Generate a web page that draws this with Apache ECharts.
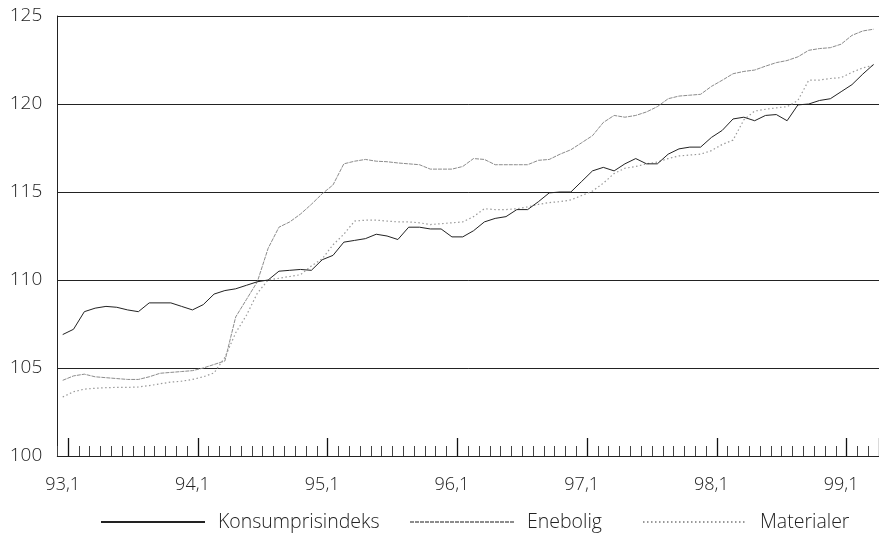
<!DOCTYPE html>
<html>
<head>
<meta charset="utf-8">
<script src="https://cdn.jsdelivr.net/npm/echarts@6/dist/echarts.min.js"></script>
<style>
  html, body { margin: 0; padding: 0; background: #fff; }
  #chart { width: 879px; height: 535px; }
</style>
</head>
<body>
<div id="chart"></div>
<script>
// months Jan 93 .. Apr 99
var years = ["93", "94", "95", "96", "97", "98", "99"];
var lastMonth = 4;
var categories = [];
for (var y = 0; y < years.length; y++) {
  var maxM = y === years.length - 1 ? lastMonth : 12;
  for (var m = 1; m <= maxM; m++) {
    categories.push(years[y] + "," + m);
  }
}

var konsumprisindeks = [
  106.9, 107.2, 108.2, 108.4, 108.5, 108.45, 108.3, 108.2, 108.7, 108.7, 108.7, 108.5,
  108.3, 108.6, 109.2, 109.4, 109.5, 109.7, 109.9, 110.0, 110.5, 110.55, 110.6, 110.55,
  111.15, 111.4, 112.15, 112.25, 112.35, 112.6, 112.5, 112.3, 113.0, 113.0, 112.9, 112.9,
  112.45, 112.45, 112.8, 113.3, 113.5, 113.6, 114.0, 114.0, 114.45, 114.95, 115.0, 115.0,
  115.6, 116.2, 116.4, 116.2, 116.6, 116.9, 116.6, 116.6, 117.15, 117.45, 117.55, 117.55,
  118.1, 118.5, 119.15, 119.25, 119.05, 119.35, 119.4, 119.05, 119.95, 120.0, 120.2, 120.3,
  120.7, 121.1, 121.7, 122.25
];

var enebolig = [
  104.3, 104.55, 104.65, 104.5, 104.45, 104.4, 104.35, 104.35, 104.5, 104.7, 104.75, 104.8,
  104.85, 105.0, 105.2, 105.4, 107.9, 108.9, 109.9, 111.8, 113.0, 113.3, 113.75, 114.3,
  114.9, 115.4, 116.6, 116.75, 116.85, 116.75, 116.72, 116.65, 116.6, 116.55, 116.3, 116.3,
  116.3, 116.45, 116.9, 116.85, 116.55, 116.55, 116.55, 116.55, 116.8, 116.85, 117.15, 117.4,
  117.8, 118.2, 118.95, 119.35, 119.25, 119.35, 119.55, 119.85, 120.3, 120.45, 120.5, 120.55,
  121.0, 121.35, 121.72, 121.85, 121.93, 122.15, 122.35, 122.47, 122.68, 123.05, 123.15, 123.2,
  123.4, 123.9, 124.15, 124.25
];

var materialer = [
  103.35, 103.65, 103.8, 103.85, 103.88, 103.9, 103.9, 103.92, 104.0, 104.1, 104.2, 104.25,
  104.35, 104.5, 104.72, 105.6, 107.0, 108.0, 109.25, 110.0, 110.1, 110.2, 110.3, 110.8,
  111.2, 112.0, 112.6, 113.35, 113.4, 113.4, 113.35, 113.3, 113.3, 113.25, 113.15, 113.2,
  113.25, 113.3, 113.6, 114.05, 114.0, 114.0, 114.05, 114.15, 114.3, 114.4, 114.45, 114.55,
  114.8, 115.05, 115.5, 116.05, 116.35, 116.45, 116.6, 116.7, 116.9, 117.05, 117.1, 117.15,
  117.35, 117.7, 117.95, 119.1, 119.6, 119.7, 119.78, 119.85, 120.2, 121.35, 121.36, 121.45,
  121.5, 121.8, 122.05, 122.2
];

var yTicks = { min: 100, max: 125, step: 5 };

var font = "'Open Sans', 'DejaVu Sans', sans-serif";
var textColor = "#222";

var chart = echarts.init(document.getElementById("chart"));

function legendAt(name, left) {
  return {
    data: [name],
    left: left,
    top: 512,
    padding: 0,
    itemWidth: 104,
    itemHeight: 12,
    itemStyle: { opacity: 0 },
    textStyle: {
      fontFamily: font,
      fontWeight: 300,
      fontSize: 19.5,
      color: textColor,
      padding: [0, 0, 0, 8]
    },
    selectedMode: false
  };
}

var option = {
  animation: false,
  backgroundColor: "#fff",
  grid: {
    left: 57.3,
    right: 0,
    top: 16,
    bottom: 79
  },
  legend: [
    legendAt("Konsumprisindeks", 100),
    legendAt("Enebolig", 409),
    legendAt("Materialer", 642)
  ],
  xAxis: [
    {
      type: "category",
      data: categories,
      boundaryGap: true,
      axisLine: { show: true, lineStyle: { color: "#222", width: 1 } },
      axisTick: {
        show: true,
        inside: true,
        interval: 0,
        length: 10,
        lineStyle: { color: "#444", width: 1 }
      },
      axisLabel: {
        interval: 11,
        margin: 20,
        fontFamily: font,
        fontWeight: 300,
        fontSize: 18,
        color: textColor
      },
      splitLine: { show: false }
    },
    {
      type: "category",
      data: categories,
      boundaryGap: true,
      position: "bottom",
      axisLine: { show: false },
      axisTick: {
        show: true,
        inside: true,
        length: 18,
        interval: function (index) { return index % 12 === 1; },
        lineStyle: { color: "#111", width: 1.3 }
      },
      axisLabel: { show: false },
      splitLine: { show: false }
    }
  ],
  yAxis: {
    type: "value",
    min: yTicks.min,
    max: yTicks.max,
    interval: yTicks.step,
    axisLine: { show: true, lineStyle: { color: "#222", width: 1 } },
    axisTick: { show: false },
    axisLabel: {
      margin: 15,
      fontFamily: font,
      fontWeight: 300,
      fontSize: 19,
      color: textColor
    },
    splitLine: { show: true, lineStyle: { color: "#222", width: 1 } }
  },
  series: [
    {
      name: "Konsumprisindeks",
      type: "line",
      data: konsumprisindeks,
      symbol: "none",
      lineStyle: { color: "#222", width: 1 },
      itemStyle: { color: "#222" },
      z: 4
    },
    {
      name: "Enebolig",
      type: "line",
      data: enebolig,
      symbol: "none",
      lineStyle: { color: "#8c8c8c", width: 1, type: [4, 1] },
      itemStyle: { color: "#8c8c8c" },
      z: 3
    },
    {
      name: "Materialer",
      type: "line",
      data: materialer,
      symbol: "none",
      lineStyle: { color: "#999", width: 1.2, type: [1.5, 2.5] },
      itemStyle: { color: "#999" },
      z: 3
    }
  ]
};

chart.setOption(option);
</script>
</body>
</html>
